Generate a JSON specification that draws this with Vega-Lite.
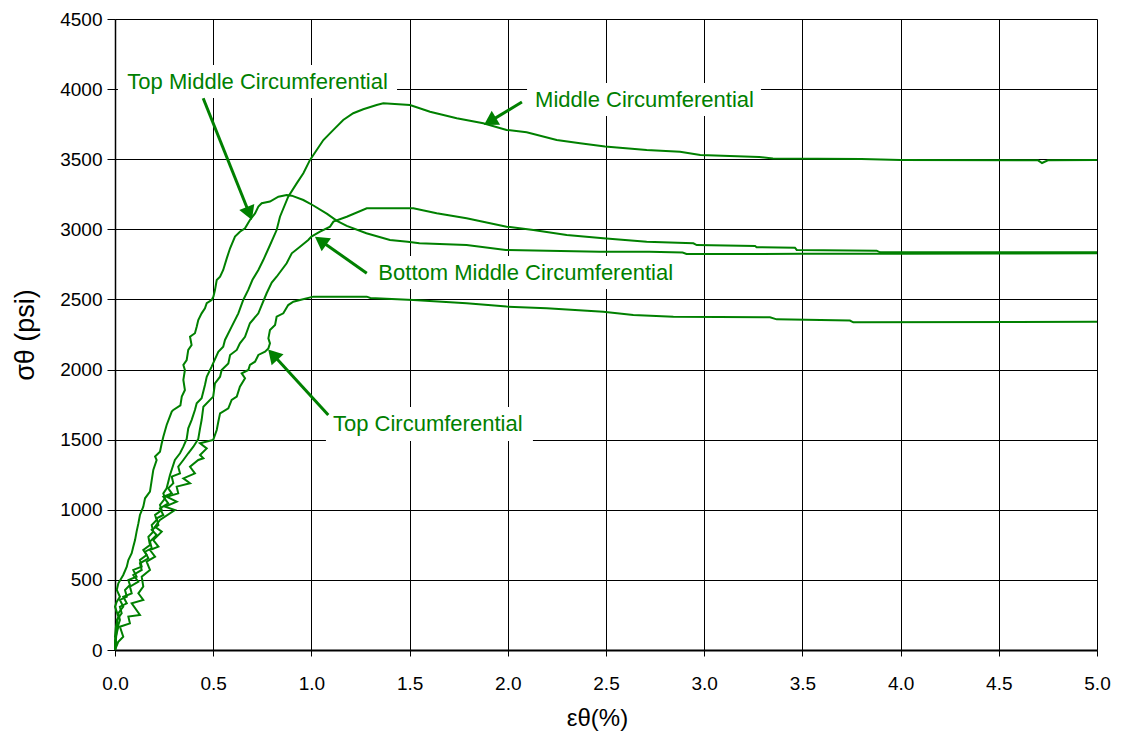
{
  "$schema": "https://vega.github.io/schema/vega-lite/v6.json",
  "width": 982,
  "height": 631,
  "autosize": {"type": "none"},
  "padding": {"left": 115, "top": 19, "right": 25, "bottom": 92},
  "background": "white",
  "config": {
    "view": {"stroke": null},
    "font": "Liberation Sans",
    "axis": {
      "domainColor": "#000000",
      "tickColor": "#000000",
      "gridColor": "#000000",
      "gridWidth": 1,
      "gridOpacity": 1,
      "labelColor": "#000000",
      "titleColor": "#000000",
      "labelFont": "Liberation Sans",
      "titleFont": "Liberation Sans",
      "labelFontSize": 19,
      "titleFontSize": 24,
      "titleFontWeight": "normal",
      "labelOverlap": false,
      "labelFlush": false
    }
  },
  "datasets": {
    "curves": [
      {"s":"TM","x":0,"y":0},{"s":"TM","x":0.009,"y":48},{"s":"TM","x":0,"y":95},{"s":"TM","x":0.005,"y":166},{"s":"TM","x":0.017,"y":238},{"s":"TM","x":0,"y":309},{"s":"TM","x":0.009,"y":345},{"s":"TM","x":0.025,"y":380},{"s":"TM","x":0.009,"y":428},{"s":"TM","x":0.017,"y":476},{"s":"TM","x":0.042,"y":535},{"s":"TM","x":0.06,"y":594},{"s":"TM","x":0.068,"y":642},{"s":"TM","x":0.085,"y":690},{"s":"TM","x":0.093,"y":737},{"s":"TM","x":0.102,"y":784},{"s":"TM","x":0.11,"y":844},{"s":"TM","x":0.119,"y":903},{"s":"TM","x":0.127,"y":963},{"s":"TM","x":0.144,"y":1022},{"s":"TM","x":0.153,"y":1082},{"s":"TM","x":0.178,"y":1129},{"s":"TM","x":0.187,"y":1212},{"s":"TM","x":0.195,"y":1284},{"s":"TM","x":0.212,"y":1355},{"s":"TM","x":0.204,"y":1380},{"s":"TM","x":0.229,"y":1414},{"s":"TM","x":0.238,"y":1474},{"s":"TM","x":0.246,"y":1521},{"s":"TM","x":0.263,"y":1605},{"s":"TM","x":0.289,"y":1700},{"s":"TM","x":0.297,"y":1712},{"s":"TM","x":0.333,"y":1745},{"s":"TM","x":0.34,"y":1807},{"s":"TM","x":0.356,"y":1854},{"s":"TM","x":0.348,"y":1926},{"s":"TM","x":0.356,"y":1997},{"s":"TM","x":0.348,"y":2033},{"s":"TM","x":0.365,"y":2068},{"s":"TM","x":0.373,"y":2140},{"s":"TM","x":0.39,"y":2175},{"s":"TM","x":0.382,"y":2234},{"s":"TM","x":0.407,"y":2259},{"s":"TM","x":0.416,"y":2306},{"s":"TM","x":0.424,"y":2353},{"s":"TM","x":0.441,"y":2401},{"s":"TM","x":0.458,"y":2437},{"s":"TM","x":0.467,"y":2473},{"s":"TM","x":0.492,"y":2496},{"s":"TM","x":0.501,"y":2520},{"s":"TM","x":0.509,"y":2567},{"s":"TM","x":0.518,"y":2639},{"s":"TM","x":0.535,"y":2663},{"s":"TM","x":0.551,"y":2710},{"s":"TM","x":0.569,"y":2793},{"s":"TM","x":0.586,"y":2865},{"s":"TM","x":0.611,"y":2948},{"s":"TM","x":0.636,"y":2983},{"s":"TM","x":0.662,"y":3007},{"s":"TM","x":0.687,"y":3067},{"s":"TM","x":0.713,"y":3114},{"s":"TM","x":0.73,"y":3162},{"s":"TM","x":0.747,"y":3186},{"s":"TM","x":0.789,"y":3198},{"s":"TM","x":0.832,"y":3233},{"s":"TM","x":0.874,"y":3245},{"s":"TM","x":0.9,"y":3240},{"s":"TM","x":0.959,"y":3209},{"s":"TM","x":1.01,"y":3170},{"s":"TM","x":1.08,"y":3110},{"s":"TM","x":1.13,"y":3060},{"s":"TM","x":1.18,"y":3025},{"s":"TM","x":1.28,"y":2972},{"s":"TM","x":1.4,"y":2924},{"s":"TM","x":1.49,"y":2912},{"s":"TM","x":1.55,"y":2900},{"s":"TM","x":1.79,"y":2888},{"s":"TM","x":1.99,"y":2853},{"s":"TM","x":2.47,"y":2841},{"s":"TM","x":2.72,"y":2841},{"s":"TM","x":2.89,"y":2834},{"s":"TM","x":2.91,"y":2824},{"s":"TM","x":3.01,"y":2824},{"s":"TM","x":3.5,"y":2825},{"s":"TM","x":4.0,"y":2826},{"s":"TM","x":4.5,"y":2828},{"s":"TM","x":5.0,"y":2830},
      {"s":"M","x":0,"y":0},{"s":"M","x":0.009,"y":143},{"s":"M","x":0.025,"y":214},{"s":"M","x":0.017,"y":262},{"s":"M","x":0.042,"y":309},{"s":"M","x":0.025,"y":357},{"s":"M","x":0.06,"y":380},{"s":"M","x":0.051,"y":428},{"s":"M","x":0.076,"y":464},{"s":"M","x":0.068,"y":499},{"s":"M","x":0.11,"y":523},{"s":"M","x":0.093,"y":571},{"s":"M","x":0.136,"y":594},{"s":"M","x":0.127,"y":642},{"s":"M","x":0.161,"y":678},{"s":"M","x":0.144,"y":713},{"s":"M","x":0.178,"y":749},{"s":"M","x":0.17,"y":808},{"s":"M","x":0.195,"y":844},{"s":"M","x":0.187,"y":891},{"s":"M","x":0.212,"y":927},{"s":"M","x":0.204,"y":963},{"s":"M","x":0.238,"y":998},{"s":"M","x":0.229,"y":1034},{"s":"M","x":0.255,"y":1082},{"s":"M","x":0.246,"y":1117},{"s":"M","x":0.263,"y":1153},{"s":"M","x":0.28,"y":1248},{"s":"M","x":0.305,"y":1355},{"s":"M","x":0.331,"y":1403},{"s":"M","x":0.348,"y":1450},{"s":"M","x":0.365,"y":1505},{"s":"M","x":0.373,"y":1581},{"s":"M","x":0.39,"y":1640},{"s":"M","x":0.407,"y":1712},{"s":"M","x":0.416,"y":1759},{"s":"M","x":0.441,"y":1795},{"s":"M","x":0.458,"y":1890},{"s":"M","x":0.467,"y":1949},{"s":"M","x":0.492,"y":2021},{"s":"M","x":0.526,"y":2127},{"s":"M","x":0.551,"y":2163},{"s":"M","x":0.56,"y":2211},{"s":"M","x":0.594,"y":2306},{"s":"M","x":0.628,"y":2401},{"s":"M","x":0.653,"y":2496},{"s":"M","x":0.679,"y":2570},{"s":"M","x":0.7,"y":2640},{"s":"M","x":0.73,"y":2710},{"s":"M","x":0.755,"y":2781},{"s":"M","x":0.79,"y":2890},{"s":"M","x":0.823,"y":2995},{"s":"M","x":0.84,"y":3090},{"s":"M","x":0.882,"y":3233},{"s":"M","x":0.925,"y":3328},{"s":"M","x":0.959,"y":3400},{"s":"M","x":0.993,"y":3495},{"s":"M","x":1.027,"y":3566},{"s":"M","x":1.061,"y":3637},{"s":"M","x":1.112,"y":3709},{"s":"M","x":1.162,"y":3780},{"s":"M","x":1.213,"y":3828},{"s":"M","x":1.264,"y":3856},{"s":"M","x":1.332,"y":3887},{"s":"M","x":1.366,"y":3899},{"s":"M","x":1.502,"y":3887},{"s":"M","x":1.604,"y":3839},{"s":"M","x":1.74,"y":3792},{"s":"M","x":1.875,"y":3756},{"s":"M","x":1.994,"y":3709},{"s":"M","x":2.096,"y":3692},{"s":"M","x":2.249,"y":3637},{"s":"M","x":2.368,"y":3614},{"s":"M","x":2.495,"y":3590},{"s":"M","x":2.707,"y":3566},{"s":"M","x":2.877,"y":3554},{"s":"M","x":2.98,"y":3530},{"s":"M","x":3.28,"y":3516},{"s":"M","x":3.35,"y":3505},{"s":"M","x":3.8,"y":3502},{"s":"M","x":4.0,"y":3495},{"s":"M","x":4.7,"y":3492},{"s":"M","x":4.72,"y":3473},{"s":"M","x":4.75,"y":3492},{"s":"M","x":5.0,"y":3495},
      {"s":"BM","x":0,"y":0},{"s":"BM","x":0,"y":71},{"s":"BM","x":0.017,"y":166},{"s":"BM","x":0.009,"y":214},{"s":"BM","x":0.034,"y":262},{"s":"BM","x":0.025,"y":309},{"s":"BM","x":0.06,"y":333},{"s":"BM","x":0.042,"y":380},{"s":"BM","x":0.085,"y":404},{"s":"BM","x":0.076,"y":452},{"s":"BM","x":0.119,"y":487},{"s":"BM","x":0.093,"y":535},{"s":"BM","x":0.136,"y":571},{"s":"BM","x":0.127,"y":618},{"s":"BM","x":0.17,"y":654},{"s":"BM","x":0.153,"y":701},{"s":"BM","x":0.187,"y":725},{"s":"BM","x":0.178,"y":773},{"s":"BM","x":0.212,"y":820},{"s":"BM","x":0.187,"y":856},{"s":"BM","x":0.221,"y":891},{"s":"BM","x":0.212,"y":939},{"s":"BM","x":0.246,"y":963},{"s":"BM","x":0.229,"y":1010},{"s":"BM","x":0.271,"y":1046},{"s":"BM","x":0.246,"y":1093},{"s":"BM","x":0.289,"y":1117},{"s":"BM","x":0.271,"y":1153},{"s":"BM","x":0.297,"y":1189},{"s":"BM","x":0.289,"y":1236},{"s":"BM","x":0.331,"y":1260},{"s":"BM","x":0.322,"y":1307},{"s":"BM","x":0.348,"y":1355},{"s":"BM","x":0.373,"y":1403},{"s":"BM","x":0.399,"y":1450},{"s":"BM","x":0.424,"y":1505},{"s":"BM","x":0.433,"y":1581},{"s":"BM","x":0.441,"y":1640},{"s":"BM","x":0.45,"y":1735},{"s":"BM","x":0.5,"y":1807},{"s":"BM","x":0.509,"y":1902},{"s":"BM","x":0.535,"y":1949},{"s":"BM","x":0.543,"y":1997},{"s":"BM","x":0.577,"y":2044},{"s":"BM","x":0.586,"y":2104},{"s":"BM","x":0.62,"y":2140},{"s":"BM","x":0.636,"y":2187},{"s":"BM","x":0.662,"y":2234},{"s":"BM","x":0.687,"y":2330},{"s":"BM","x":0.73,"y":2401},{"s":"BM","x":0.747,"y":2460},{"s":"BM","x":0.772,"y":2544},{"s":"BM","x":0.798,"y":2620},{"s":"BM","x":0.823,"y":2662},{"s":"BM","x":0.874,"y":2758},{"s":"BM","x":0.9,"y":2829},{"s":"BM","x":0.942,"y":2876},{"s":"BM","x":0.984,"y":2924},{"s":"BM","x":1.0,"y":2948},{"s":"BM","x":1.044,"y":2983},{"s":"BM","x":1.095,"y":3019},{"s":"BM","x":1.112,"y":3055},{"s":"BM","x":1.18,"y":3090},{"s":"BM","x":1.282,"y":3150},{"s":"BM","x":1.519,"y":3150},{"s":"BM","x":1.638,"y":3114},{"s":"BM","x":1.79,"y":3079},{"s":"BM","x":1.994,"y":3019},{"s":"BM","x":2.13,"y":2995},{"s":"BM","x":2.3,"y":2960},{"s":"BM","x":2.486,"y":2936},{"s":"BM","x":2.707,"y":2912},{"s":"BM","x":2.945,"y":2900},{"s":"BM","x":2.962,"y":2888},{"s":"BM","x":3.259,"y":2881},{"s":"BM","x":3.267,"y":2872},{"s":"BM","x":3.462,"y":2869},{"s":"BM","x":3.471,"y":2853},{"s":"BM","x":3.878,"y":2848},{"s":"BM","x":3.895,"y":2836},{"s":"BM","x":5.0,"y":2836},
      {"s":"TC","x":0,"y":0},{"s":"TC","x":0.017,"y":59},{"s":"TC","x":0.042,"y":95},{"s":"TC","x":0.025,"y":166},{"s":"TC","x":0.076,"y":190},{"s":"TC","x":0.068,"y":238},{"s":"TC","x":0.127,"y":250},{"s":"TC","x":0.085,"y":333},{"s":"TC","x":0.144,"y":357},{"s":"TC","x":0.119,"y":404},{"s":"TC","x":0.144,"y":452},{"s":"TC","x":0.136,"y":523},{"s":"TC","x":0.178,"y":571},{"s":"TC","x":0.161,"y":630},{"s":"TC","x":0.204,"y":666},{"s":"TC","x":0.178,"y":713},{"s":"TC","x":0.221,"y":737},{"s":"TC","x":0.195,"y":784},{"s":"TC","x":0.238,"y":844},{"s":"TC","x":0.204,"y":879},{"s":"TC","x":0.229,"y":927},{"s":"TC","x":0.305,"y":998},{"s":"TC","x":0.255,"y":1022},{"s":"TC","x":0.314,"y":1058},{"s":"TC","x":0.263,"y":1093},{"s":"TC","x":0.322,"y":1117},{"s":"TC","x":0.314,"y":1165},{"s":"TC","x":0.382,"y":1189},{"s":"TC","x":0.348,"y":1224},{"s":"TC","x":0.407,"y":1260},{"s":"TC","x":0.382,"y":1307},{"s":"TC","x":0.424,"y":1355},{"s":"TC","x":0.45,"y":1367},{"s":"TC","x":0.433,"y":1391},{"s":"TC","x":0.467,"y":1438},{"s":"TC","x":0.433,"y":1474},{"s":"TC","x":0.5,"y":1498},{"s":"TC","x":0.518,"y":1569},{"s":"TC","x":0.526,"y":1628},{"s":"TC","x":0.535,"y":1688},{"s":"TC","x":0.577,"y":1724},{"s":"TC","x":0.594,"y":1783},{"s":"TC","x":0.62,"y":1807},{"s":"TC","x":0.636,"y":1878},{"s":"TC","x":0.662,"y":1938},{"s":"TC","x":0.645,"y":1973},{"s":"TC","x":0.679,"y":1997},{"s":"TC","x":0.687,"y":2033},{"s":"TC","x":0.713,"y":2056},{"s":"TC","x":0.73,"y":2104},{"s":"TC","x":0.764,"y":2127},{"s":"TC","x":0.781,"y":2151},{"s":"TC","x":0.789,"y":2187},{"s":"TC","x":0.781,"y":2222},{"s":"TC","x":0.789,"y":2282},{"s":"TC","x":0.815,"y":2318},{"s":"TC","x":0.823,"y":2377},{"s":"TC","x":0.857,"y":2401},{"s":"TC","x":0.882,"y":2460},{"s":"TC","x":0.908,"y":2484},{"s":"TC","x":0.942,"y":2496},{"s":"TC","x":1.01,"y":2520},{"s":"TC","x":1.282,"y":2520},{"s":"TC","x":1.3,"y":2510},{"s":"TC","x":1.519,"y":2496},{"s":"TC","x":1.79,"y":2473},{"s":"TC","x":1.994,"y":2449},{"s":"TC","x":2.198,"y":2437},{"s":"TC","x":2.486,"y":2413},{"s":"TC","x":2.639,"y":2389},{"s":"TC","x":2.843,"y":2377},{"s":"TC","x":3.335,"y":2373},{"s":"TC","x":3.369,"y":2358},{"s":"TC","x":3.742,"y":2349},{"s":"TC","x":3.759,"y":2337},{"s":"TC","x":5.0,"y":2341}
    ],
    "boxes": [
      {"label":"Top Middle Circumferential","x":0.015,"x2":1.436,"y":4172,"y2":3937},
      {"label":"Middle Circumferential","x":2.098,"x2":3.289,"y":4044,"y2":3808},
      {"label":"Bottom Middle Circumferential","x":1.303,"x2":2.877,"y":2810,"y2":2575},
      {"label":"Top Circumferential","x":1.074,"x2":2.128,"y":1733,"y2":1491}
    ],
    "arrows": [
      {"label":"Top Middle Circumferential","x":0.449,"y":3935,"x2":0.684,"y2":3113},
      {"label":"Middle Circumferential","x":2.072,"y":3908,"x2":1.909,"y2":3770},
      {"label":"Bottom Middle Circumferential","x":1.282,"y":2687,"x2":1.047,"y2":2919},
      {"label":"Top Circumferential","x":1.086,"y":1676,"x2":0.804,"y2":2107}
    ],
    "labels": [
      {"label":"Top Middle Circumferential","x":0.063,"y":3999},
      {"label":"Middle Circumferential","x":2.139,"y":3875},
      {"label":"Bottom Middle Circumferential","x":1.341,"y":2639},
      {"label":"Top Circumferential","x":1.11,"y":1562}
    ]
  },
  "encoding": {
    "x": {
      "field": "x",
      "type": "quantitative",
      "scale": {"domain": [0, 5], "nice": false, "zero": false},
      "axis": {
        "values": [0, 0.5, 1, 1.5, 2, 2.5, 3, 3.5, 4, 4.5, 5],
        "format": ".1f",
        "title": "εθ(%)",
        "titleX": 482,
        "tickSize": 6,
        "labelPadding": 18,
        "titlePadding": 13,
        "domainWidth": 2,
        "grid": true
      }
    },
    "y": {
      "field": "y",
      "type": "quantitative",
      "scale": {"domain": [0, 4500], "nice": false, "zero": false},
      "axis": {
        "values": [0, 500, 1000, 1500, 2000, 2500, 3000, 3500, 4000, 4500],
        "format": "d",
        "title": "σθ (psi)",
        "titleFontSize": 27,
        "tickSize": 8,
        "labelPadding": 5,
        "titlePadding": 20,
        "domainWidth": 1.5,
        "grid": true
      }
    }
  },
  "layer": [
    {
      "data": {"name": "curves"},
      "mark": {"type": "line", "color": "#008000", "strokeWidth": 2},
      "encoding": {"detail": {"field": "s"}, "order": {"value": null}}
    },
    {
      "data": {"name": "boxes"},
      "mark": {"type": "rect", "fill": "white", "stroke": null},
      "encoding": {"x2": {"field": "x2"}, "y2": {"field": "y2"}}
    },
    {
      "data": {"name": "arrows"},
      "mark": {"type": "rule", "color": "#008000", "strokeWidth": 3},
      "encoding": {"x2": {"field": "x2"}, "y2": {"field": "y2"}}
    },
    {
      "data": {"values": [{"label":"Top Middle Circumferential","x":0.684,"y":3113}]},
      "mark": {"type": "point", "shape": "triangle-up", "filled": true, "color": "#008000", "opacity": 1, "size": 260, "angle": 158.6}
    },
    {
      "data": {"values": [{"label":"Middle Circumferential","x":1.909,"y":3770}]},
      "mark": {"type": "point", "shape": "triangle-up", "filled": true, "color": "#008000", "opacity": 1, "size": 260, "angle": 238.8}
    },
    {
      "data": {"values": [{"label":"Bottom Middle Circumferential","x":1.047,"y":2919}]},
      "mark": {"type": "point", "shape": "triangle-up", "filled": true, "color": "#008000", "opacity": 1, "size": 260, "angle": 305.3}
    },
    {
      "data": {"values": [{"label":"Top Circumferential","x":0.804,"y":2107}]},
      "mark": {"type": "point", "shape": "triangle-up", "filled": true, "color": "#008000", "opacity": 1, "size": 260, "angle": 317.6}
    },
    {
      "data": {"name": "labels"},
      "mark": {"type": "text", "align": "left", "baseline": "alphabetic", "fontSize": 22, "color": "#008000", "font": "Liberation Sans"},
      "encoding": {"text": {"field": "label"}}
    }
  ]
}
